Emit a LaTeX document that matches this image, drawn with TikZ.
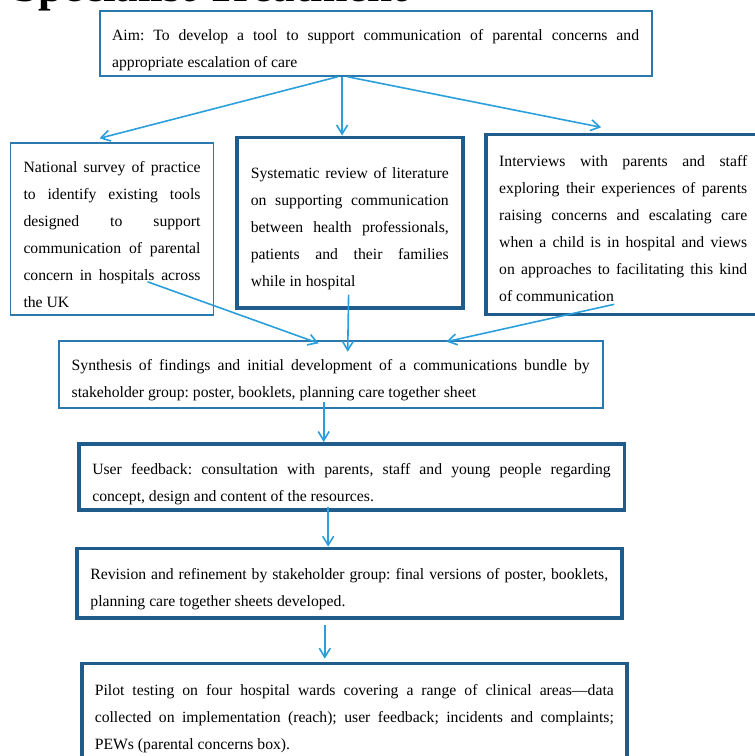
\documentclass[tikz,border=0pt]{standalone}
\usepackage{fontspec}
\setmainfont{Liberation Serif}
\usepackage{tikz}
\usetikzlibrary{positioning}
\usetikzlibrary{arrows.meta}
\definecolor{thinblue}{HTML}{2A78AE}
\definecolor{thickblue}{HTML}{1F5C8C}
\definecolor{arrowblue}{HTML}{2A9FDC}
\tolerance=10000 \hbadness=10000
\frenchspacing
\tikzset{
x=1pt, y=-1pt, % one unit is one pixel of the page, y going down
every edge/.style={draw, ->, arrowblue, line width=1.6pt}, % makes the edges directed
>={Straight Barb[length=9pt,width=11pt]}, % open arrow heads
stepbox/.style={draw, anchor=north west, inner ysep=0pt, inner xsep=13pt, align=justify, font=\fontsize{15.7}{27}\selectfont}, % common look of the boxes
thinbox/.style={stepbox, thinblue, line width=1.8pt, text=black}, % boxes with a thin border
thickbox/.style={stepbox, thickblue, line width=3.6pt, text=black}, % boxes with a thick border
}
\begin{document}
\begin{tikzpicture}
\useasboundingbox (0,0) rectangle (755,756);
%title of the page, cut off at the top
\node[anchor=base west, inner sep=0pt, font=\fontsize{45}{45}\selectfont\bfseries] (title) at (13,1.5) {Specialist Treatment};
%AIM,SURVEY,REVIEW,INTERVIEWS,SYNTH,FEEDBACK,REVISION,PILOT
\node[thinbox, inner xsep=12.5pt, text width=527pt, text height=29.3pt, text depth=35.7pt] (AIM) at (98.7,10) {Aim: To develop a tool to support communication of parental concerns and\linebreak appropriate escalation of care};
\node[thinbox, text width=177pt, text height=30pt, text depth=142.3pt] (SURVEY) at (9.6,141.7) {National survey of practice\linebreak to identify existing tools\linebreak designed to support\linebreak communication of parental\linebreak concern in hospitals across\linebreak the UK};
\node[thickbox, inner xsep=14pt, text width=198pt, text height=41.2pt, text depth=129.3pt] (REVIEW) at (235,135.5) {Systematic review of literature\linebreak on supporting communication\linebreak between health professionals,\linebreak patients and their families\linebreak while in hospital};
\node[thickbox, inner xsep=13.4pt, text width=248pt, text height=32.3pt, text depth=147.7pt] (INTERVIEWS) at (484,132.7) {Interviews with parents and staff\linebreak exploring their experiences of parents\linebreak raising concerns and escalating care\linebreak when a child is in hospital and views\linebreak on approaches to facilitating this kind\linebreak of communication};
\node[thinbox, text width=518pt, text height=29.3pt, text depth=37.4pt] (SYNTH) at (57.8,340) {Synthesis of findings and initial development of a communications bundle by\linebreak stakeholder group: poster, booklets, planning care together sheet};
\node[thickbox, inner xsep=13.5pt, text width=518.5pt, text height=30.7pt, text depth=35.6pt] (FEEDBACK) at (77,442) {User feedback: consultation with parents, staff and young people regarding\linebreak concept, design and content of the resources.};
\node[thickbox, inner xsep=13.6pt, text width=517.8pt, text height=31pt, text depth=38.3pt] (REVISION) at (75,546.7) {Revision and refinement by stakeholder group: final versions of poster, booklets,\linebreak planning care together sheets developed.};
\node[thickbox, text width=519pt, text height=31.6pt, text depth=80pt] (PILOT) at (80,661.7) {Pilot testing on four hospital wards covering a range of clinical areas---data\linebreak collected on implementation (reach); user feedback; incidents and complaints;\linebreak PEWs (parental concerns box).};
%from the aim to the three studies
\path ([xshift=-38pt]AIM.south) edge ([xshift=-12.5pt,yshift=3.4pt]SURVEY.north);
\path ([xshift=-33.5pt]AIM.south) edge ([xshift=-33.5pt]AIM.south |- REVIEW.north);
\path ([xshift=-28pt]AIM.south) edge ([xshift=-22pt,yshift=5.4pt]INTERVIEWS.north);
%from the three studies to the synthesis
\path ([xshift=35.6pt,yshift=34pt]SURVEY.south) edge ([xshift=-12pt,yshift=-3.3pt]SYNTH.north);
\path ([xshift=-1.2pt,yshift=15pt]REVIEW.south) edge ([xshift=17pt,yshift=-11.7pt]SYNTH.north);
\path ([xshift=-9pt,yshift=12pt]INTERVIEWS.south) edge ([xshift=115.6pt,yshift=-1.7pt]SYNTH.north);
%down the chain
\path ([xshift=-7pt,yshift=7pt]SYNTH.south) edge ([xshift=-7pt]SYNTH.south |- FEEDBACK.north);
\path ([xshift=-23.4pt,yshift=5pt]FEEDBACK.south) edge ([xshift=-23.4pt]FEEDBACK.south |- REVISION.north);
\path ([xshift=-24.5pt,yshift=-5.7pt]REVISION.south) edge ([xshift=-24.5pt,yshift=3pt]REVISION.south |- PILOT.north);
\end{tikzpicture}
\end{document}
